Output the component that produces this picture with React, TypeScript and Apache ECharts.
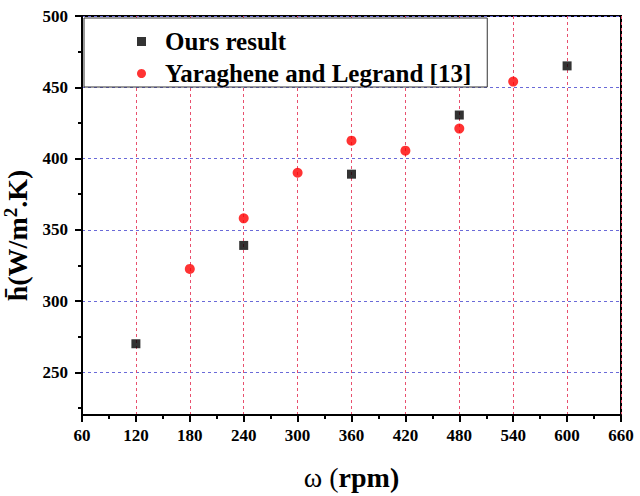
import React, { useEffect, useRef } from "react";
import * as echarts from "echarts";

const FONT = "Liberation Serif";

const oursX = [120, 240, 360, 480, 600];
const oursY = [270, 339, 389, 430.5, 465];
const yarX = [180, 240, 300, 360, 420, 480, 540];
const yarY = [322.5, 358, 390, 412.5, 405.5, 421, 454];

const seriesNames = ["Ours result", "Yaraghene and Legrand [13]"];
const yMajorTicks = [250, 300, 350, 400, 450, 500];
const yMinorTicks = [225, 275, 325, 375, 425, 475];
const xMin = 60;
const xMax = 660;
const xStep = 60;
const yMin = 220;
const yMax = 500;

export default function App() {
  const ref = useRef<HTMLDivElement>(null);
  useEffect(() => {
    if (!ref.current) return;
    const chart = echarts.init(ref.current, undefined, { renderer: "svg" });
    const labelStyle = {
      color: "#000",
      fontFamily: FONT,
      fontWeight: "bold" as const,
      fontSize: 17,
    };
    chart.setOption({
      animation: false,
      backgroundColor: "#fff",
      grid: {
        left: 82,
        right: 19,
        top: 16,
        bottom: 81,
        show: true,
        borderColor: "#000",
        borderWidth: 2,
        backgroundColor: "transparent",
        containLabel: false,
        outerBoundsMode: "none",
      },
      legend: {
        orient: "vertical",
        left: 84,
        top: 18,
        padding: [11, 16, 1, 53],
        itemGap: 7,
        itemWidth: 9,
        itemHeight: 9,
        borderColor: "#333",
        borderWidth: 1,
        backgroundColor: "#fff",
        textStyle: {
          color: "#000",
          fontFamily: FONT,
          fontWeight: "bold",
          fontSize: 25,
          padding: [0, 0, 0, 14],
        },
        data: seriesNames,
      },
      xAxis: {
        type: "value",
        min: xMin,
        max: xMax,
        interval: xStep,
        name: "{n|ω (}{b|rpm)}",
        nameLocation: "middle",
        nameGap: 48,
        nameTextStyle: {
          rich: {
            n: { fontFamily: FONT, fontSize: 28, color: "#000" },
            b: { fontFamily: FONT, fontSize: 28, fontWeight: "bold", color: "#000" },
          },
        },
        axisLine: { show: true, lineStyle: { color: "#000", width: 2 } },
        axisTick: { show: true, inside: false, length: 7, lineStyle: { color: "#000", width: 2 } },
        minorTick: { show: true, splitNumber: 2, length: 4, lineStyle: { color: "#000", width: 2 } },
        axisLabel: { ...labelStyle, margin: 12 },
        splitLine: {
          show: true,
          lineStyle: { color: "#e8506e", type: [3, 3], width: 1 },
        },
      },
      yAxis: [
        {
          type: "value",
          min: yMin,
          max: yMax,
          name: "{b|h\u0304(W/m}{s|2}{b|.K)}",
          nameLocation: "middle",
          nameGap: 47,
          nameRotate: 90,
          nameTextStyle: {
            padding: [0, 40, 0, 0],
            rich: {
              b: { fontFamily: FONT, fontSize: 28, fontWeight: "bold", color: "#000" },
              s: {
                fontFamily: FONT,
                fontSize: 19,
                fontWeight: "bold",
                color: "#000",
                padding: [0, 0, 14, 0],
              },
            },
          },
          axisLine: { show: true, lineStyle: { color: "#000", width: 2 } },
          axisTick: {
            show: true,
            inside: false,
            length: 7,
            customValues: yMajorTicks,
            lineStyle: { color: "#000", width: 2 },
          },
          axisLabel: { ...labelStyle, margin: 14, customValues: yMajorTicks },
          splitLine: {
            show: true,
            lineStyle: { color: "#6a6ad8", type: [3, 3], width: 1 },
          },
        },
        {
          type: "value",
          min: yMin,
          max: yMax,
          position: "left",
          axisLine: { show: false },
          axisTick: {
            show: true,
            inside: false,
            length: 4,
            customValues: yMinorTicks,
            lineStyle: { color: "#000", width: 2 },
          },
          axisLabel: { show: false },
          splitLine: { show: false },
        },
      ],
      series: [
        {
          name: seriesNames[0],
          type: "scatter",
          symbol: "rect",
          symbolSize: 9,
          itemStyle: { color: "#000" },
          data: oursX.map((x, i) => [x, oursY[i]]),
          z: 5,
        },
        {
          name: seriesNames[1],
          type: "scatter",
          symbol: "circle",
          symbolSize: 10,
          itemStyle: { color: "#ff0000" },
          data: yarX.map((x, i) => [x, yarY[i]]),
          z: 5,
        },
      ],
    });
    return () => chart.dispose();
  }, []);
  return (
    <div
      ref={ref}
      style={{ position: "absolute", left: 0, top: 0, width: 640, height: 496 }}
    />
  );
}
